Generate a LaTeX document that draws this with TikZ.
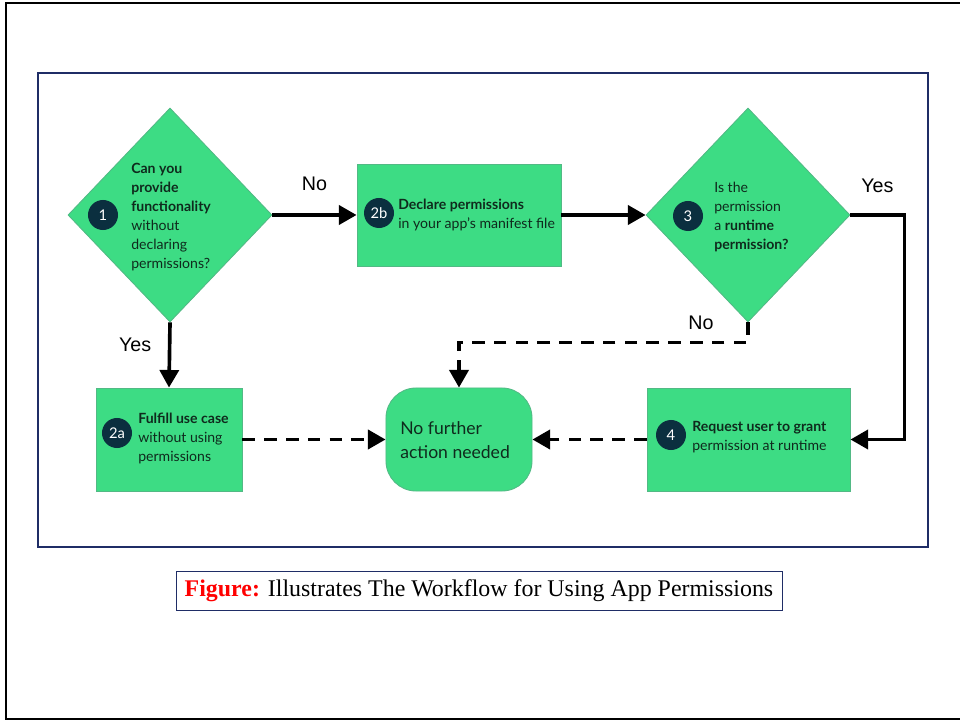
\documentclass[tikz,border=0pt]{standalone}
\usepackage{fontspec}
\setmainfont{Liberation Serif}
\newfontfamily\boxfont{Lato}
\newfontfamily\armfont{Liberation Sans}
\usetikzlibrary{shapes.geometric,arrows.meta}

\definecolor{droidgreen}{HTML}{3DDC84}
\definecolor{droidedge}{HTML}{52B985}
\definecolor{badgeblue}{HTML}{0B2F3F}
\definecolor{inktext}{HTML}{0F2A1D}
\definecolor{framenavy}{HTML}{1F2D66}

\tikzset{
  decision/.style={diamond, draw=droidedge, fill=droidgreen, line width=0.6pt,
    inner sep=0pt, minimum width=5.1cm, minimum height=5.35cm},
  task/.style={rectangle, draw=droidedge, fill=droidgreen, line width=0.6pt,
    inner sep=0pt},
  stopbox/.style={task, rounded corners=0.75cm, minimum width=3.65cm, minimum height=2.575cm},
  badge/.style={circle, fill=badgeblue, text=white, minimum size=0.75cm, inner sep=0pt,
    font=\boxfont\fontsize{10.5}{12}\selectfont},
  steptext/.style={anchor=west, align=left, text=inktext, inner sep=0pt,
    font=\boxfont\fontsize{10}{13.5}\selectfont},
  flow/.style={line width=2.6pt, -{Triangle[length=12.5pt,width=13.5pt]}},
  maybe/.style={flow, dash pattern=on 9pt off 6.5pt},
  answer/.style={font=\armfont\fontsize{14}{16}\selectfont}
}

\begin{document}
\begin{tikzpicture}[x=0.025cm, y=-0.025cm]

    \useasboundingbox (0,0) rectangle (960,721);

    % slide frame (right edge is cut off)
    \draw[line width=2pt] (962,3) -- (6,3) -- (6,719) -- (962,719);
    \draw[framenavy, line width=0.9pt] (38,73) rectangle (928,547);

    % decisions
    \node[decision] (q1) at (170,215) {};
    \node[decision] (q3) at (748,215) {};

    % actions
    \node[task, minimum width=5.1cm, minimum height=2.55cm] (declare) at (459,215) {};
    \node[task, minimum width=3.65cm, minimum height=2.575cm] (fulfill) at (169,439.5) {};
    \node[task, minimum width=5.075cm, minimum height=2.575cm] (grant) at (748.5,439.5) {};
    \node[stopbox] (stop) at (459,439.5) {};

    % step numbers
    \foreach \name/\x/\y/\num in {b1/103/215/1, b2b/379/213/2b, b3/688/216/3,
                                 b2a/117/433/2a, b4/671/435/4} {
        \node[badge] (\name) at (\x,\y) {\num};
    }

    % step texts
    \node[steptext] (t1) at (131,217) {\textbf{Can you}\\ \textbf{provide}\\ \textbf{functionality}\\ without\\ declaring\\ permissions?};
    \node[steptext] (t2b) at (398,214.5) {\textbf{Declare permissions}\\ in your app’s manifest file};
    \node[steptext] (t3) at (714,217) {Is the\\ permission\\ a \textbf{runtime}\\ \textbf{permission?}};
    \node[steptext] (t2a) at (138,438) {\textbf{Fulfill use case}\\ without using\\ permissions};
    \node[steptext] (t4) at (692,437.5) {\textbf{Request user to grant}\\ permission at runtime};
    \node[steptext, font=\boxfont\fontsize{12.5}{17}\selectfont] (tstop) at (400,440) {No further\\ action needed};

    % connectors
    \draw[flow] (q1.east) -- node[answer, above=0.45cm] (no1) {No} (declare.west);
    \draw[flow] (declare.east) -- (q3.west);
    \draw[flow] (q1.south) -- node[answer, pos=0.35, left=0.3cm] (yes1) {Yes} (fulfill.north);
    \draw[flow] (q3.east) -- node[answer, above=0.4cm] (yes3) {Yes} ++(54,0) |- (grant.east);
    \draw[maybe] (q3.south) node[answer, left=0.7cm] (no3) {No} -- ++(0,20) -| (stop.north);
    \draw[maybe] (fulfill.east) -- (stop.west);
    \draw[maybe] (grant.west) -- (stop.east);

    % caption
    \node[draw=framenavy, line width=0.6pt, minimum width=15.15cm, minimum height=0.975cm,
          font=\fontsize{17}{20}\selectfont] (caption) at (479,590.5)
        {\textcolor{red}{\textbf{Figure:}} Illustrates The Workflow for Using App Permissions};

\end{tikzpicture}
\end{document}
